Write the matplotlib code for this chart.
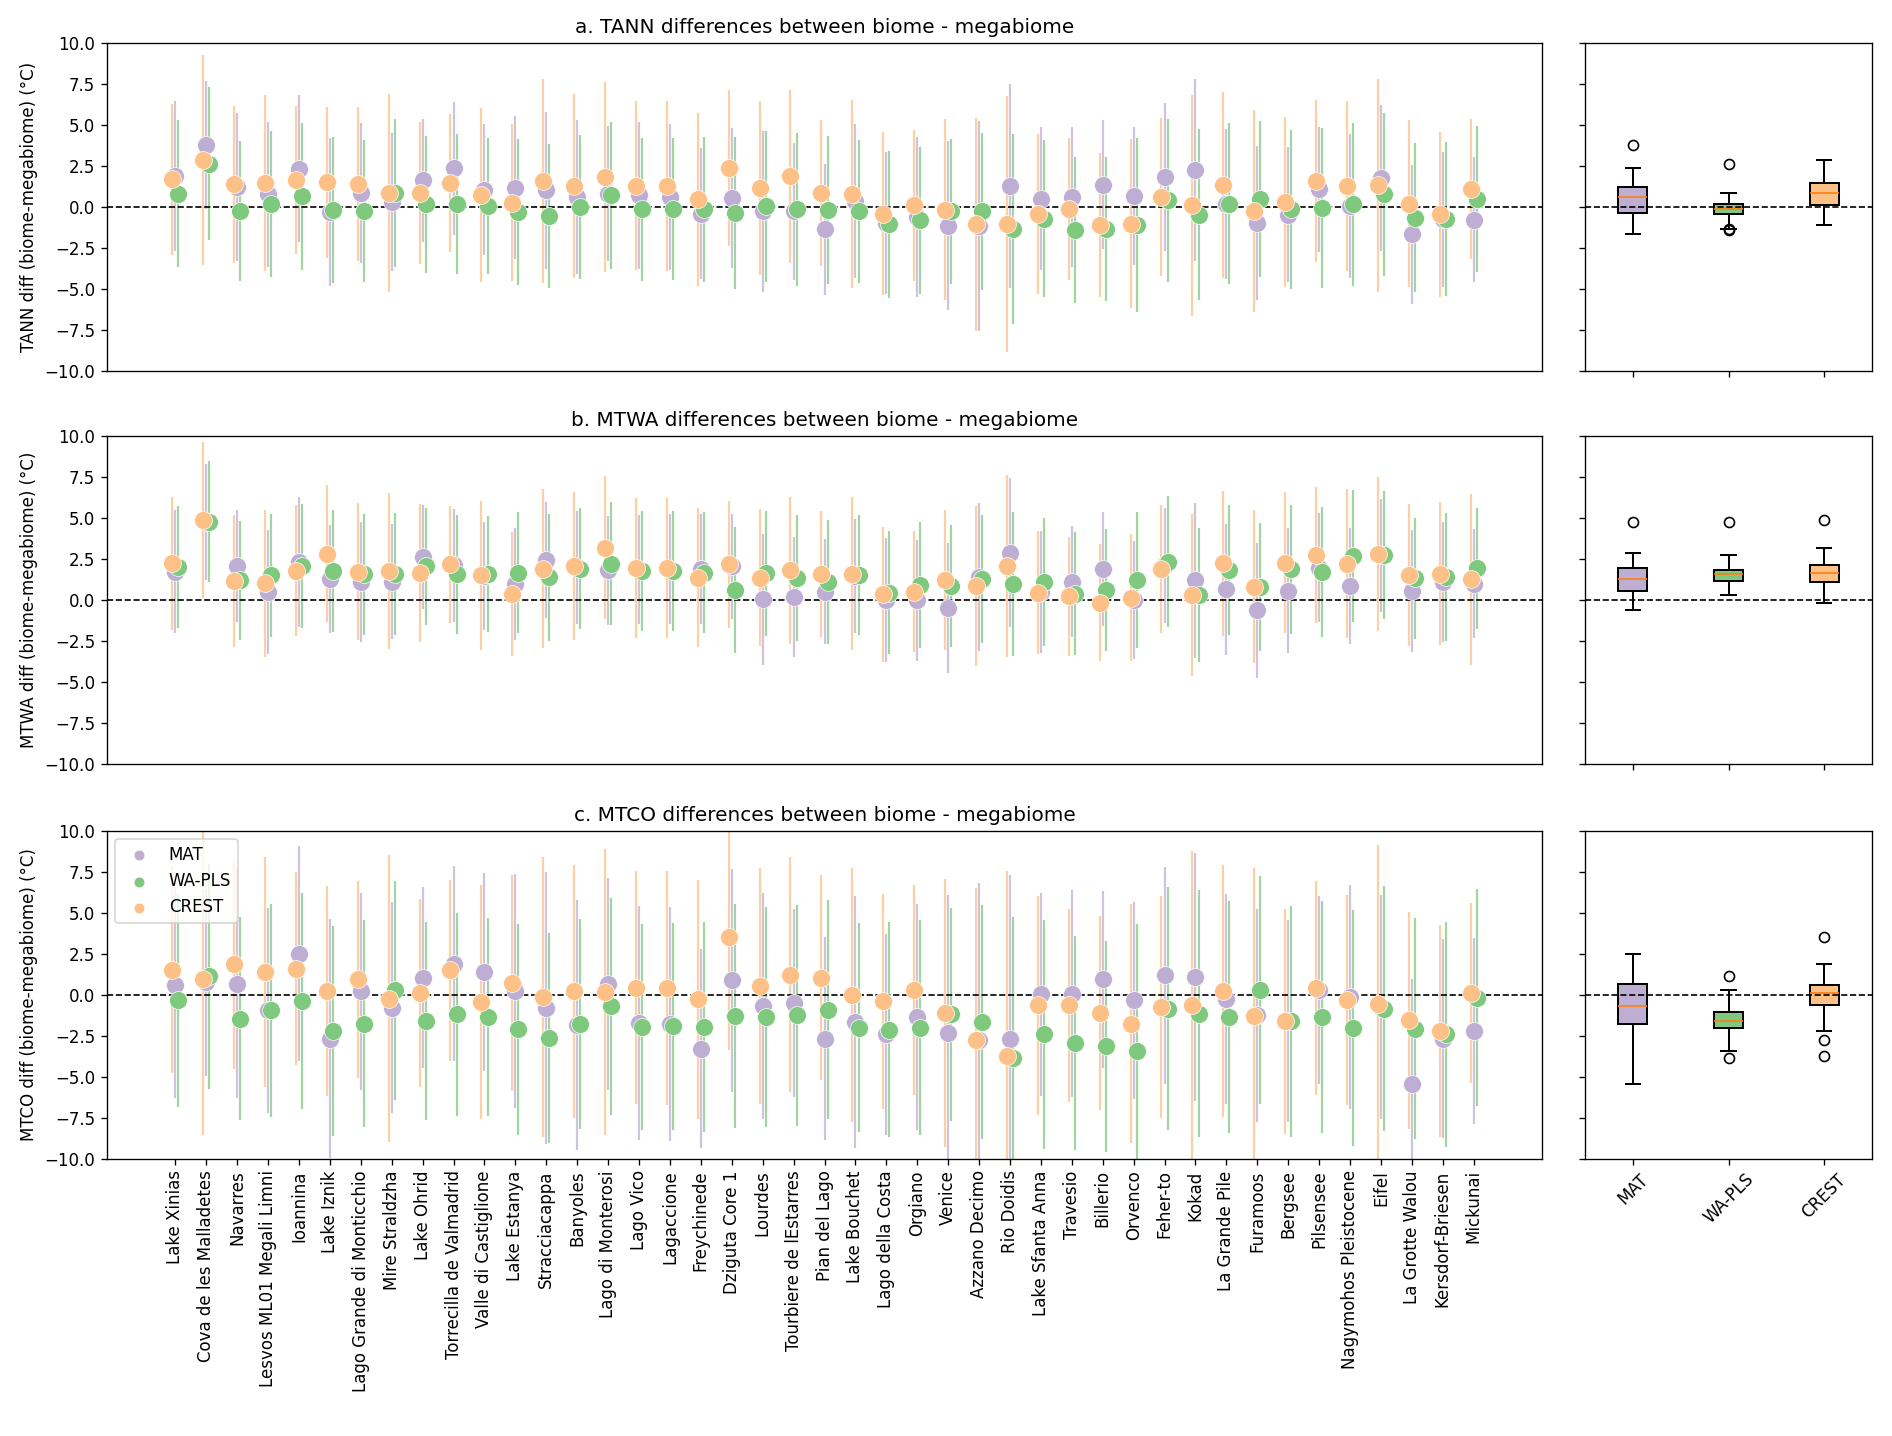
import numpy as np
import matplotlib
matplotlib.use("Agg")
import matplotlib.pyplot as plt

sites = ["Lake Xinias", "Cova de les Malladetes", "Navarres", "Lesvos ML01 Megali Limni",
         "Ioannina", "Lake Iznik", "Lago Grande di Monticchio", "Mire Straldzha", "Lake Ohrid",
         "Torrecilla de Valmadrid", "Valle di Castiglione", "Lake Estanya", "Stracciacappa",
         "Banyoles", "Lago di Monterosi", "Lago Vico", "Lagaccione", "Freychinede",
         "Dziguta Core 1", "Lourdes", "Tourbiere de lEstarres", "Pian del Lago", "Lake Bouchet",
         "Lago della Costa", "Orgiano", "Venice", "Azzano Decimo", "Rio Doidis",
         "Lake Sfanta Anna", "Travesio", "Billerio", "Orvenco", "Feher-to", "Kokad",
         "La Grande Pile", "Furamoos", "Bergsee", "Pilsensee", "Nagymohos Pleistocene",
         "Eifel", "La Grotte Walou", "Kersdorf-Briesen", "Mickunai"]

methods = ["MAT", "WA-PLS", "CREST"]

# ---- TANN ----
tann_mat = [1.87, 3.76, 1.22, 0.77, 2.34, -0.3, 0.87, 0.3, 1.63, 2.36, 1.06, 1.18, 1.02, 0.61, 0.81,
            0.71, 0.61, -0.41, 0.55, -0.26, -0.26, -1.36, 0.37, -0.96, -0.61, -1.14, -1.18, 1.28,
            0.51, 0.61, 1.36, 0.67, 1.83, 2.24, 0.16, -0.98, -0.47, 1.08, 0.06, 1.77, -1.65, -0.75, -0.77]
tann_mat_err = [4.57, 3.9, 4.5, 4.4, 4.5, 4.5, 4.27, 4.2, 3.76, 4.05, 4.0, 4.37, 4.8, 4.67, 4.1,
                4.5, 4.47, 4.0, 4.25, 4.9, 4.17, 4.0, 4.7, 4.33, 4.88, 5.16, 6.4, 6.2,
                4.35, 4.28, 3.93, 4.2, 4.5, 5.55, 4.57, 4.7, 4.1, 3.8, 4.4, 4.45, 4.24, 4.13, 3.81]
tann_wapls = [0.81, 2.64, -0.24, 0.2, 0.65, -0.2, -0.24, 0.87, 0.16, 0.2, 0.06, -0.3, -0.55, 0.0, 0.71,
              -0.14, -0.1, -0.14, -0.37, 0.04, -0.14, -0.2, -0.26, -1.06, -0.81, -0.26, -0.26, -1.32,
              -0.71, -1.42, -1.36, -1.12, 0.41, -0.47, 0.2, 0.47, -0.14, -0.06, 0.16, 0.77, -0.65, -0.71, 0.51]
tann_wapls_err = [4.49, 4.68, 4.25, 4.45, 4.5, 4.45, 4.35, 4.5, 4.17, 4.27, 4.13, 4.44, 4.4, 4.4, 4.5,
                  4.35, 4.33, 4.42, 4.65, 4.6, 4.65, 4.5, 4.36, 4.47, 4.47, 4.42, 4.8, 5.8,
                  4.77, 4.45, 4.4, 5.3, 4.98, 5.2, 4.9, 4.75, 4.83, 4.85, 4.95, 4.95, 4.56, 4.7, 4.45]
tann_crest = [1.69, 2.89, 1.38, 1.48, 1.63, 1.52, 1.42, 0.85, 0.85, 1.48, 0.73, 0.26, 1.59, 1.3, 1.83,
              1.3, 1.3, 0.47, 2.38, 1.16, 1.87, 0.87, 0.81, -0.41, 0.1, -0.16, -1.06, -1.02,
              -0.41, -0.14, -1.08, -1.02, 0.61, 0.1, 1.32, -0.26, 0.3, 1.57, 1.3, 1.32, 0.2, -0.45, 1.12]
tann_crest_err = [4.6, 6.4, 4.78, 5.36, 4.5, 4.6, 4.7, 6.06, 4.35, 4.2, 5.28, 4.8, 6.2, 5.6, 5.8,
                  5.15, 5.18, 5.27, 4.75, 5.3, 5.26, 4.44, 5.73, 4.96, 4.62, 5.5, 6.5, 7.8,
                  4.88, 4.32, 4.39, 5.15, 4.83, 6.75, 5.67, 6.15, 5.2, 4.93, 5.18, 6.5, 5.1, 5.05, 4.27]

# ---- MTWA ----
mtwa_mat = [1.71, 4.76, 2.07, 0.49, 2.34, 1.26, 1.1, 1.12, 2.62, 2.11, 1.46, 0.96, 2.44, 1.97, 1.81,
            1.87, 1.87, 1.91, 2.07, 0.04, 0.18, 0.51, 1.46, 0.0, -0.02, -0.47, 1.4, 2.89,
            0.49, 1.12, 1.91, 0.0, 2.11, 1.2, 0.65, -0.63, 0.55, 1.97, 0.85, 2.72, 0.55, 1.12, 1.0]
mtwa_mat_err = [3.75, 3.54, 3.42, 3.76, 3.96, 3.29, 3.68, 3.5, 3.17, 3.43, 3.3, 3.4, 3.56, 3.43, 3.32,
                3.33, 3.35, 3.35, 3.2, 3.98, 3.64, 3.22, 3.45, 3.78, 3.69, 3.96, 4.5, 4.55,
                3.72, 3.4, 3.48, 3.59, 3.5, 4.74, 4.0, 4.1, 3.81, 3.32, 3.54, 3.43, 3.72, 3.66, 3.33]
mtwa_wapls = [2.01, 4.78, 1.2, 1.5, 2.07, 1.77, 1.57, 1.57, 2.07, 1.57, 1.57, 1.67, 1.4, 1.91, 2.22,
              1.77, 1.77, 1.67, 0.61, 1.63, 1.36, 1.1, 1.52, 0.45, 0.91, 0.85, 1.26, 0.96,
              1.1, 0.39, 0.59, 1.22, 2.34, 0.3, 1.83, 0.81, 1.87, 1.71, 2.68, 2.74, 1.32, 1.4, 1.93]
mtwa_wapls_err = [3.74, 3.71, 3.63, 3.74, 3.79, 3.71, 3.68, 3.71, 3.57, 3.62, 3.55, 3.71, 3.87, 3.69, 3.75,
                  3.66, 3.64, 3.71, 3.86, 3.81, 3.84, 3.79, 3.68, 3.76, 3.83, 3.7, 3.91, 4.38,
                  3.9, 3.74, 3.71, 4.17, 3.99, 4.1, 3.98, 3.89, 3.93, 3.95, 4.01, 3.9, 3.71, 3.88, 3.69]
mtwa_crest = [2.24, 4.88, 1.16, 1.02, 1.79, 2.83, 1.73, 1.77, 1.63, 2.17, 1.5, 0.37, 1.91, 2.07, 3.19,
              1.93, 1.97, 1.36, 2.17, 1.36, 1.81, 1.57, 1.61, 0.35, 0.51, 1.22, 0.85, 2.07,
              0.45, 0.24, -0.16, 0.14, 1.91, 0.3, 2.24, 0.81, 2.28, 2.74, 2.22, 2.78, 1.52, 1.61, 1.26]
mtwa_crest_err = [4.07, 4.76, 4.0, 4.47, 4.0, 4.17, 4.17, 4.74, 4.2, 3.56, 4.54, 3.8, 4.85, 4.5, 4.35,
                  4.27, 4.27, 4.25, 3.87, 4.17, 4.47, 3.83, 4.65, 4.1, 3.68, 4.27, 4.9, 5.55,
                  3.76, 3.63, 3.57, 3.88, 3.91, 4.95, 4.42, 4.65, 4.29, 4.16, 4.55, 4.7, 4.32, 4.37, 5.22]

# ---- MTCO ----
mtco_mat = [0.61, 0.77, 0.67, -0.96, 2.5, -2.68, 0.2, -0.79, 1.04, 1.89, 1.38, 0.22, -0.81, -1.83, 0.67,
            -1.71, -1.77, -3.29, 0.87, -0.69, -0.51, -2.68, -1.67, -2.42, -1.36, -2.34, -2.74, -2.72,
            0.02, 0.06, 0.93, -0.35, 1.18, 1.08, -0.24, -1.26, -1.61, 0.26, -0.14, -0.75, -5.43, -2.68, -2.22]
mtco_mat_err = [6.9, 5.7, 6.97, 6.25, 6.55, 7.3, 5.99, 6.42, 5.52, 5.94, 6.05, 7.13, 8.3, 7.62, 6.47,
                7.13, 7.13, 6.06, 6.8, 6.88, 5.74, 6.2, 7.67, 6.15, 6.9, 8.4, 9.57, 10.0,
                6.2, 6.3, 5.42, 5.98, 6.6, 7.58, 6.4, 6.48, 6.17, 5.73, 6.8, 6.84, 6.36, 6.05, 5.68]
mtco_wapls = [-0.35, 1.14, -1.46, -0.96, -0.39, -2.22, -1.77, 0.26, -1.61, -1.2, -1.36, -2.11, -2.62, -1.77, -0.71,
              -1.97, -1.93, -1.97, -1.3, -1.36, -1.26, -0.91, -2.01, -2.13, -2.01, -1.2, -1.67, -3.84,
              -2.42, -2.95, -3.15, -3.46, -0.85, -1.16, -1.36, 0.26, -1.63, -1.36, -2.03, -0.85, -2.07, -2.42, -0.18]
mtco_wapls_err = [6.5, 6.86, 6.2, 6.48, 6.6, 6.42, 6.3, 6.67, 6.03, 6.2, 6.02, 6.43, 6.4, 6.4, 6.6,
                  6.3, 6.3, 6.4, 6.85, 6.7, 6.76, 6.67, 6.38, 6.55, 6.57, 6.5, 7.15, 8.6,
                  6.98, 6.53, 6.45, 7.8, 7.4, 7.54, 7.05, 6.95, 7.05, 7.09, 7.2, 7.45, 6.73, 6.86, 6.6]
mtco_crest = [1.52, 0.98, 1.89, 1.38, 1.59, 0.22, 0.93, -0.24, 0.1, 1.48, -0.45, 0.71, -0.14, 0.2, 0.16,
              0.43, 0.41, -0.28, 3.52, 0.51, 1.22, 1.04, -0.04, -0.41, 0.26, -1.12, -2.78, -3.76,
              -0.65, -0.65, -1.12, -1.77, -0.75, -0.65, 0.22, -1.3, -1.63, 0.41, -0.35, -0.59, -1.57, -2.22, 0.1]
mtco_crest_err = [6.3, 9.56, 6.45, 7.0, 5.9, 6.4, 6.03, 8.75, 5.73, 5.53, 7.13, 6.58, 8.53, 7.72, 8.74,
                  7.1, 7.12, 7.3, 6.87, 7.2, 7.16, 6.27, 7.75, 6.53, 6.4, 8.15, 9.3, 11.3,
                  6.67, 5.87, 5.92, 7.3, 6.76, 9.4, 7.7, 9.0, 6.86, 6.53, 6.4, 9.7, 6.6, 6.47, 5.48]

variables = ["TANN", "MTWA", "MTCO"]
titles = ["a. TANN differences between biome - megabiome",
          "b. MTWA differences between biome - megabiome",
          "c. MTCO differences between biome - megabiome"]
data = {
    "TANN": [(tann_mat, tann_mat_err), (tann_wapls, tann_wapls_err), (tann_crest, tann_crest_err)],
    "MTWA": [(mtwa_mat, mtwa_mat_err), (mtwa_wapls, mtwa_wapls_err), (mtwa_crest, mtwa_crest_err)],
    "MTCO": [(mtco_mat, mtco_mat_err), (mtco_wapls, mtco_wapls_err), (mtco_crest, mtco_crest_err)],
}

colors = ["#beaed4", "#7fc97f", "#fdc086"]
offsets = [0.0, 0.1, -0.1]

W, H = 1892, 1436
fig = plt.figure(figsize=(W / 120, H / 120), dpi=120)

left_x, left_w = 107 / W, 1435 / W
right_x, right_w = 1585 / W, 287 / W
row_bottoms = [371, 764, 1158.7]
row_h = 328 / H

x = np.arange(len(sites))
yticks = np.arange(-10, 10.01, 2.5)

for r, var in enumerate(variables):
    yb = 1 - row_bottoms[r] / H
    ax = fig.add_axes([left_x, yb, left_w, row_h])
    axb = fig.add_axes([right_x, yb, right_w, row_h])

    series = data[var]
    for m, (vals, errs) in enumerate(series):
        ax.errorbar(x + offsets[m], vals, yerr=errs, fmt="none", ecolor=colors[m],
                    elinewidth=1.3, alpha=0.75, zorder=1)
    for m, (vals, errs) in enumerate(series):
        ax.scatter(x + offsets[m], vals, s=115, color=colors[m], edgecolors="white",
                   linewidths=0.4, zorder=3 + m, label=methods[m])
    ax.axhline(0, color="k", linestyle="--", linewidth=1.0, zorder=2)
    ax.set_ylim(-10, 10)
    ax.set_yticks(yticks)
    ax.set_ylabel(f"{var} diff (biome-megabiome) (°C)")
    ax.set_title(titles[r])
    if r == 2:
        ax.set_xticks(x)
        ax.set_xticklabels(sites, rotation=90)
        ax.legend(loc="upper left", markerscale=0.6)
    else:
        ax.set_xticks([])

    bp = axb.boxplot([s[0] for s in series], patch_artist=True, tick_labels=methods)
    for patch, c in zip(bp["boxes"], colors):
        patch.set_facecolor(c)
        patch.set_edgecolor("black")
        patch.set_linewidth(1.2)
    for med in bp["medians"]:
        med.set_color("#ff7f0e")
    for w in bp["whiskers"] + bp["caps"]:
        w.set_linewidth(1.2)
    axb.axhline(0, color="k", linestyle="--", linewidth=1.0)
    axb.set_ylim(-10, 10)
    axb.set_yticks(yticks)
    axb.set_yticklabels([])
    if r == 2:
        axb.set_xticklabels(methods, rotation=45)
    else:
        axb.set_xticklabels([])

fig.savefig("out.png", dpi=120)
